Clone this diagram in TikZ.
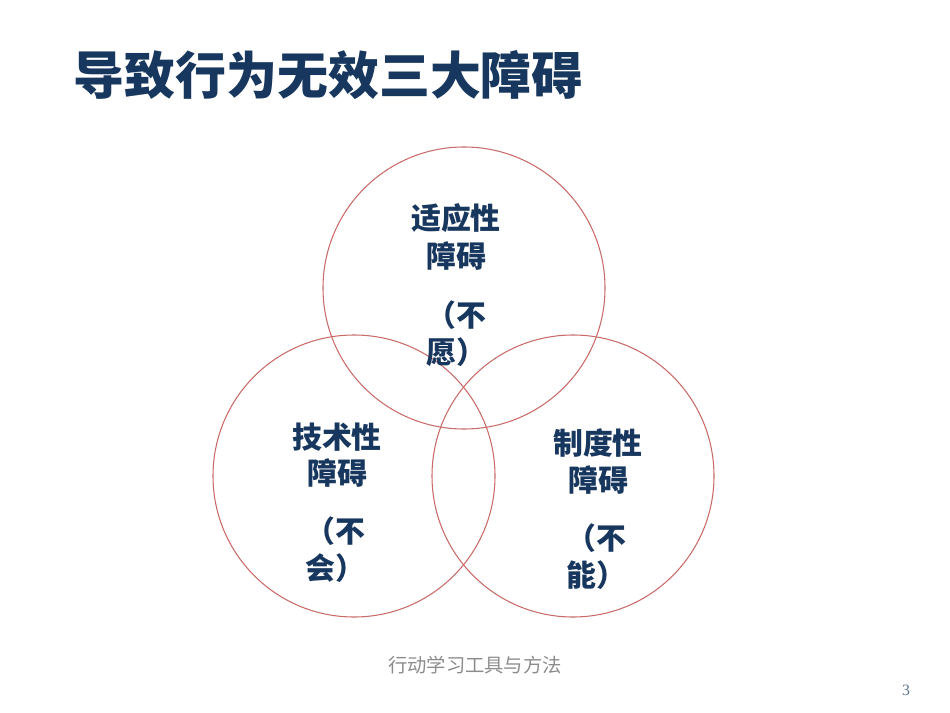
\documentclass[tikz,border=0pt]{standalone}
\usepackage{fontspec}
\setmainfont{Liberation Serif}
\newfontfamily\cjk{Noto Sans CJK SC}
\newfontfamily\cjkserif{Noto Sans CJK SC Light}
\definecolor{navy}{HTML}{17375E}
\definecolor{ring}{HTML}{C0504D}
\begin{document}
\begin{tikzpicture}[x=0.02cm,y=-0.02cm,
  circ/.style={draw=ring!85, line width=0.6pt},
  lab/.style={font=\cjk\bfseries\fontsize{17}{20}\selectfont, text=navy, inner sep=0pt}]
\useasboundingbox (0,0) rectangle (950,713);
\node[font=\cjk\bfseries\fontsize{29}{34}\selectfont, text=navy, anchor=west, inner sep=0pt] (title) at (73,75) {导致行为无效三大障碍};
\draw[circ] (464,288) circle (141);
\draw[circ] (354,476) circle (141);
\draw[circ] (573,476) circle (141);
\node[lab] (a1) at (456,218) {适应性};
\node[lab] (a2) at (456,256) {障碍};
\node[lab] (a3) at (456,315) {（不};
\node[lab] (a4) at (456,352) {愿）};
\node[lab] (b1) at (337,437) {技术性};
\node[lab] (b2) at (337,473) {障碍};
\node[lab] (b3) at (335,531) {（不};
\node[lab] (b4) at (335,568) {会）};
\node[lab] (c1) at (598,443) {制度性};
\node[lab] (c2) at (598,480) {障碍};
\node[lab] (c3) at (596,538) {（不};
\node[lab] (c4) at (596,575) {能）};
\node[font=\cjk\fontsize{11}{13}\selectfont, text=black!45, inner sep=0pt] (foot) at (475,665) {行动学习工具与方法};
\node[font=\fontsize{9}{11}\selectfont, text=navy!70, inner sep=0pt] (pg) at (906,690) {3};
\end{tikzpicture}
\end{document}
